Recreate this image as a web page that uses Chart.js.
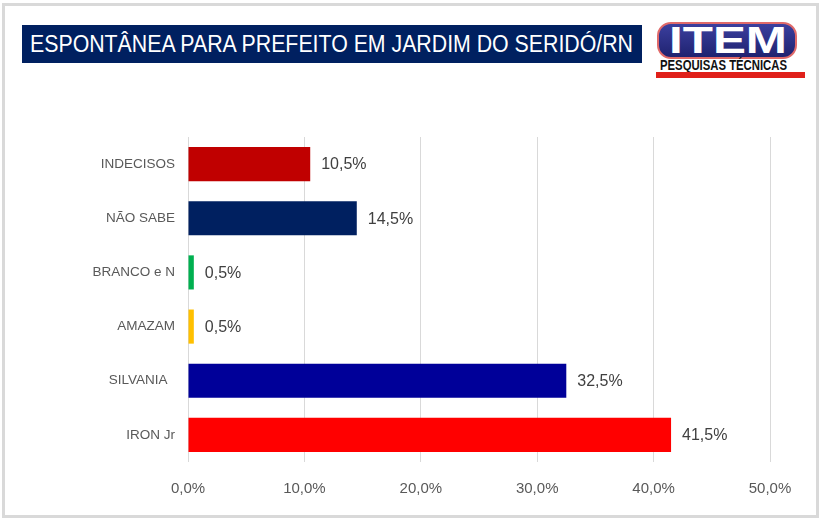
<!DOCTYPE html>
<html>
<head>
<meta charset="utf-8">
<script src="https://cdn.jsdelivr.net/npm/chart.js@4"></script>
<style>
  body { margin: 0; background: #fff; }
  #frame { position: absolute; left: 2px; top: 3px; width: 811px; height: 509px; border: 3px solid #d9d9d9; background: #fff; }
  #title { position: absolute; left: 22px; top: 25px; width: 620px; height: 38px; background: #002060; overflow: hidden; }
  #title span { position: absolute; left: 8px; top: 0; color: #fff; font-family: "Liberation Sans", sans-serif;
    font-size: 23px; line-height: 38px; white-space: nowrap; transform-origin: 0 50%; }
  #logo { position: absolute; left: 657px; top: 22px; width: 140px; height: 37px; border-radius: 14px;
    background: linear-gradient(#3b3f9e, #1f2270); border: 2px solid #e06a6a; box-sizing: border-box; overflow: hidden; }
  #logo span { position: absolute; left: 10px; top: -1px; color: #fff; font-family: "Liberation Sans", sans-serif;
    font-weight: bold; font-size: 36px; line-height: 36px; white-space: nowrap; transform-origin: 0 50%; }
  #sub { position: absolute; left: 660px; top: 59px; color: #111; font-family: "Liberation Sans", sans-serif;
    font-weight: bold; font-size: 14px; line-height: 13px; white-space: nowrap; transform-origin: 0 50%; }
  #bar { position: absolute; left: 656px; top: 72px; width: 149px; height: 6px; background: #e0201a; }
  canvas { position: absolute; left: 0; top: 0; }
</style>
</head>
<body>
<div id="frame"></div>
<div id="title"><span>ESPONTÂNEA PARA PREFEITO EM JARDIM DO SERIDÓ/RN</span></div>
<div id="logo"><span>ITEM</span></div>
<div id="sub">PESQUISAS TÉCNICAS</div>
<div id="bar"></div>
<canvas id="myChart" width="822" height="520"></canvas>
<script>
const categories = ["INDECISOS", "NÃO SABE", "BRANCO e N", "AMAZAM", "SILVANIA  ", "IRON Jr"];
const values = [10.5, 14.5, 0.5, 0.5, 32.5, 41.5];
const barColors = ["#c00000", "#002060", "#00b050", "#ffc000", "#000099", "#ff0000"];
const tickValues = [0, 10, 20, 30, 40, 50];

// squeeze text to the width it has in the picture (no narrow font installed)
function fitWidth(el, w) {
  el.style.transform = "scaleX(" + (w / el.getBoundingClientRect().width) + ")";
}
fitWidth(document.querySelector("#title span"), 603);
fitWidth(document.querySelector("#logo span"), 118);
fitWidth(document.getElementById("sub"), 127);

function pct(v) {
  return v.toFixed(1).replace(".", ",") + "%";
}

const valueLabels = {
  id: "valueLabels",
  afterDatasetsDraw(chart) {
    const c = chart.ctx;
    const meta = chart.getDatasetMeta(0);
    c.save();
    c.font = "16px 'Liberation Sans', sans-serif";
    c.fillStyle = "#404040";
    c.textBaseline = "middle";
    meta.data.forEach((bar, i) => {
      c.fillText(pct(values[i]), bar.x + 11, bar.y + 1);
    });
    c.restore();
  },
};

const ctx = document.getElementById("myChart");
const myChart = new Chart(ctx, {
  type: "bar",
  data: {
    labels: categories,
    datasets: [
      {
        data: values,
        backgroundColor: barColors,
        borderWidth: 0,
        barPercentage: 0.63,
        categoryPercentage: 1,
      },
    ],
  },
  options: {
    indexAxis: "y",
    responsive: false,
    animation: false,
    layout: { padding: { left: 0, right: 52, top: 137, bottom: 0 } },
    plugins: { legend: { display: false }, tooltip: { enabled: false } },
    scales: {
      x: {
        min: 0,
        max: 50,
        afterBuildTicks: (scale) => {
          scale.ticks = tickValues.map((v) => ({ value: v }));
        },
        afterFit: (scale) => {
          scale.height = 58;
        },
        grid: { color: "#d9d9d9", drawTicks: false },
        border: { display: false },
        ticks: {
          padding: 18,
          color: "#595959",
          font: { family: "'Liberation Sans', sans-serif", size: 15 },
          callback: (v) => pct(v),
        },
      },
      y: {
        afterFit: (scale) => {
          scale.width = 188;
        },
        grid: { display: false, drawTicks: false },
        border: { display: false },
        ticks: {
          padding: 13,
          color: "#595959",
          font: { family: "'Liberation Sans', sans-serif", size: 13.5 },
        },
      },
    },
  },
  plugins: [valueLabels],
});
</script>
</body>
</html>
